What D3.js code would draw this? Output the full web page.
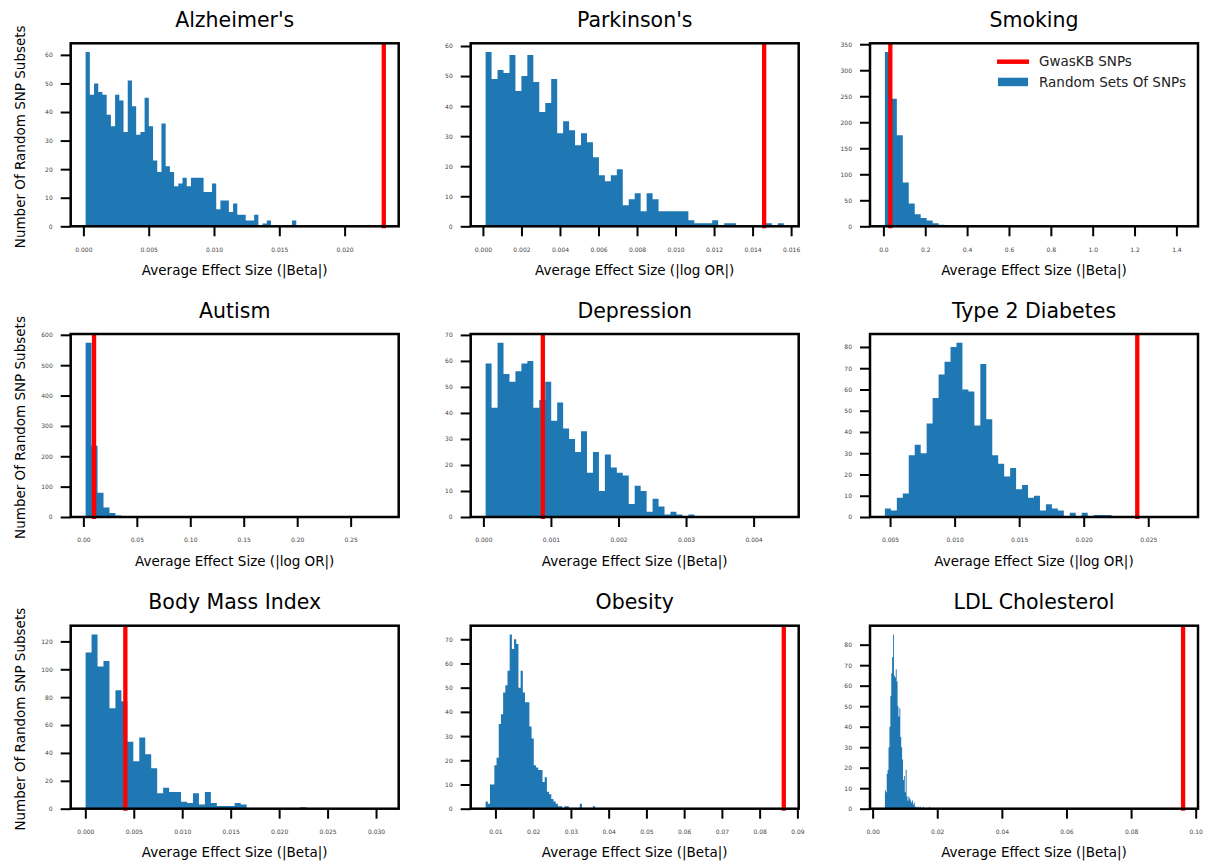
<!DOCTYPE html>
<html lang="en">
<head>
  <meta charset="UTF-8" />
  <title>GwasKB SNPs vs Random SNP Sets</title>
  <script src="https://d3js.org/d3.v7.min.js"></script>
  <style>
    body {
      margin: 0;
      background-color: #ffffff;
      font-family: 'DejaVu Sans', sans-serif;
    }
    svg {
      display: block;
    }
    .tick text {
      font-family: 'DejaVu Sans', sans-serif;
      font-size: 6px;
      fill: #444;
    }
  </style>
</head>
<body>
<div id="chart"></div>

<script>
// panel order: row by row
const panelTitles = ["Alzheimer's", "Parkinson's", "Smoking",
                     "Autism", "Depression", "Type 2 Diabetes",
                     "Body Mass Index", "Obesity", "LDL Cholesterol"];

const xAxisLabels = ["Average Effect Size (|Beta|)", "Average Effect Size (|log OR|)", "Average Effect Size (|Beta|)",
                     "Average Effect Size (|log OR|)", "Average Effect Size (|Beta|)", "Average Effect Size (|log OR|)",
                     "Average Effect Size (|Beta|)", "Average Effect Size (|Beta|)", "Average Effect Size (|Beta|)"];

// histogram range (50 bins each) and the GwasKB value (red line)
const histLow  = [0.00017, 0.000139, 0.0072, 0.0021, 0.000033, 0.0046, 0.00003, 0.0074, 0.0038];
const histHigh = [0.0163, 0.01562, 1.432, 0.281, 0.004447, 0.0277, 0.0308, 0.0364, 0.0178];
const gwasValues = [0.0230, 0.0146, 0.033, 0.010, 0.00088, 0.02415, 0.00413, 0.0864, 0.0961];

const countsAlzheimers = [61,46,50,47,46,39,35,46,44,33, 51,42,32,33,45,35,23,19,36,21,
                          19,14,15,17,14,17,17,17,12,12, 15,6,9,9,5,8,4,4,2,2,
                          4,0,1,2,0,0,0,0,0,2];
const countsParkinsons = [58,49,52,51,57,45,50,57,48,38, 41,49,31,35,32,27,31,28,23,17,
                          15,17,19,7,9,11,5,11,9,5, 5,5,5,5,2,1,1,1,2,0,
                          1,1,0,0,0,0,0,1,0,1];
const countsSmoking = [335,245,175,84,44,23,16,11,6,3, 2,1,1,0,1,0,0,0,0,0,
                       0,0,0,0,0,0,0,0,0,0, 0,0,0,0,0,0,0,0,0,0,
                       0,0,0,0,0,0,0,0,0,0];
const countsAutism = [574,235,80,31,13,5,3,2,1,1, 1,0,0,0,0,0,0,0,0,0,
                      0,0,0,0,0,0,0,0,0,0, 0,0,0,0,0,0,0,0,0,0,
                      0,0,0,0,0,0,0,0,0,0];
const countsDepression = [59,42,67,55,52,56,59,60,42,45, 52,37,44,34,30,25,33,17,25,10,
                          24,19,17,16,5,12,10,2,7,4, 1,2,1,0,1,0,0,0,0,0,
                          0,0,0,0,0,0,0,0,0,0];
const countsDiabetes = [4,3,9,11,29,34,30,44,56,67, 73,80,82,60,59,43,72,46,29,25,
                        19,23,13,15,9,10,3,6,4,3, 0,2,0,2,0,1,1,1,0,0,
                        0,0,0,0,0,0,0,0,0,0];
const countsBMI = [112,125,102,106,72,85,77,48,34,51, 39,29,11,15,12,12,5,4,11,3,
                   12,4,2,2,2,4,3,0,0,0, 0,0,0,0,0,0,1,0,0,0,
                   0,0,0,0,0,0,0,0,0,0];
const countsObesity = [3,2,10,10,18,21,35,39,48,51, 57,72,66,70,68,50,57,48,44,44,
                       34,29,18,17,16,16,11,13,7,6, 4,3,2,1,1,0,1,1,0,0,
                       0,0,0,2,0,0,0,0,0,1];
const countsLDL = [9,8,17,19,30,40,55,66,74,85, 65,64,68,62,50,45,49,35,30,24,
                   14,16,8,19,6,4,6,5,4,3, 4,2,3,1,1,0,1,1,0,1,
                   0,0,1,0,0,0,0,0,0,1];

const panelCounts = [countsAlzheimers, countsParkinsons, countsSmoking,
                     countsAutism, countsDepression, countsDiabetes,
                     countsBMI, countsObesity, countsLDL];

const xTickValues = [
  [0, 0.005, 0.010, 0.015, 0.020],
  [0, 0.002, 0.004, 0.006, 0.008, 0.010, 0.012, 0.014, 0.016],
  [0, 0.2, 0.4, 0.6, 0.8, 1.0, 1.2, 1.4],
  [0, 0.05, 0.10, 0.15, 0.20, 0.25],
  [0, 0.001, 0.002, 0.003, 0.004],
  [0.005, 0.010, 0.015, 0.020, 0.025],
  [0, 0.005, 0.010, 0.015, 0.020, 0.025, 0.030],
  [0.01, 0.02, 0.03, 0.04, 0.05, 0.06, 0.07, 0.08, 0.09],
  [0, 0.02, 0.04, 0.06, 0.08, 0.10]
];
const xTickDigits = [3, 3, 1, 2, 3, 3, 3, 2, 2];

const yTickValues = [
  [0, 10, 20, 30, 40, 50, 60],
  [0, 10, 20, 30, 40, 50, 60],
  [0, 50, 100, 150, 200, 250, 300, 350],
  [0, 100, 200, 300, 400, 500, 600],
  [0, 10, 20, 30, 40, 50, 60, 70],
  [0, 10, 20, 30, 40, 50, 60, 70, 80],
  [0, 20, 40, 60, 80, 100, 120],
  [0, 10, 20, 30, 40, 50, 60, 70],
  [0, 10, 20, 30, 40, 50, 60, 70, 80]
];

const legendLabels = ["GwasKB SNPs", "Random Sets Of SNPs"];
const yAxisLabel = "Number Of Random SNP Subsets";

const blue = "#1f77b4", red = "#ff0000";
const W = 328, H = 183;
const colLeft = [70.7, 470.7, 870];
const rowTop = [43.3, 334, 625.7];

const svg = d3.select("#chart").append("svg")
  .attr("width", 1210)
  .attr("height", 863);

function drawPanel(i) {
  const lo = histLow[i], hi = histHigh[i], counts = panelCounts[i], gv = gwasValues[i];
  const n = counts.length, bw = (hi - lo) / n;

  // autoscale like matplotlib: data range (incl. axvline) + 5% margins
  const dMin = Math.min(lo, gv), dMax = Math.max(hi, gv);
  const pad = 0.05 * (dMax - dMin);
  const x = d3.scaleLinear().domain([dMin - pad, dMax + pad]).range([0, W]);
  const y = d3.scaleLinear().domain([0, d3.max(counts) * 1.05]).range([H, 0]);

  const g = svg.append("g")
    .attr("transform", `translate(${colLeft[i % 3]},${rowTop[Math.floor(i / 3)]})`);

  // histogram as a filled step area
  const pts = counts.map((c, k) => [lo + k * bw, c]);
  pts.push([hi, counts[n - 1]]);
  g.append("path")
    .datum(pts)
    .attr("d", d3.area()
      .x(d => x(d[0]))
      .y0(y(0))
      .y1(d => y(d[1]))
      .curve(d3.curveStepAfter))
    .attr("fill", blue);

  // GwasKB line
  g.append("line")
    .attr("x1", x(gv)).attr("x2", x(gv))
    .attr("y1", 0).attr("y2", H + 2)
    .attr("stroke", red)
    .attr("stroke-width", 4.3);

  // axes
  const fmt = d3.format(`.${xTickDigits[i]}f`);
  const xAxis = g.append("g")
    .attr("transform", `translate(0,${H})`)
    .call(d3.axisBottom(x).tickValues(xTickValues[i]).tickFormat(fmt).tickSize(10).tickPadding(11));
  const yAxis = g.append("g")
    .call(d3.axisLeft(y).tickValues(yTickValues[i]).tickFormat(d3.format("d")).tickSize(10).tickPadding(8));
  [xAxis, yAxis].forEach(a => {
    a.select(".domain").remove();
    a.selectAll(".tick line").attr("stroke", "#000").attr("stroke-width", 2);
  });

  // frame
  g.append("rect")
    .attr("width", W).attr("height", H)
    .attr("fill", "none")
    .attr("stroke", "#000")
    .attr("stroke-width", 2.5);

  // title + x label
  g.append("text")
    .attr("x", W / 2).attr("y", -16.5)
    .attr("text-anchor", "middle")
    .style("font-size", "20.5px")
    .text(panelTitles[i]);

  g.append("text")
    .attr("x", W / 2).attr("y", H + 48.5)
    .attr("text-anchor", "middle")
    .style("font-size", "13.5px")
    .text(xAxisLabels[i]);

  if (i % 3 === 0) {
    g.append("text")
      .attr("transform", `translate(-45.5,${H / 2 + 2}) rotate(-90)`)
      .attr("text-anchor", "middle")
      .style("font-size", "13.5px")
      .text(yAxisLabel);
  }

  // legend lives in the Smoking panel
  if (i === 2) {
    const lg = g.append("g").attr("transform", `translate(${W - 201},0)`);
    lg.append("line")
      .attr("x1", 0).attr("x2", 32)
      .attr("y1", 18.4).attr("y2", 18.4)
      .attr("stroke", red).attr("stroke-width", 4.5);
    lg.append("rect")
      .attr("x", 1).attr("y", 34.4)
      .attr("width", 30).attr("height", 8.5)
      .attr("fill", blue);
    lg.selectAll("text.leg")
      .data(legendLabels)
      .enter()
      .append("text")
      .attr("class", "leg")
      .attr("x", 42)
      .attr("y", (d, k) => 22.7 + k * 20.7)
      .style("font-size", "13.5px")
      .style("fill", "#222")
      .text(d => d);
  }
}

panelTitles.forEach((t, i) => drawPanel(i));
</script>
</body>
</html>
